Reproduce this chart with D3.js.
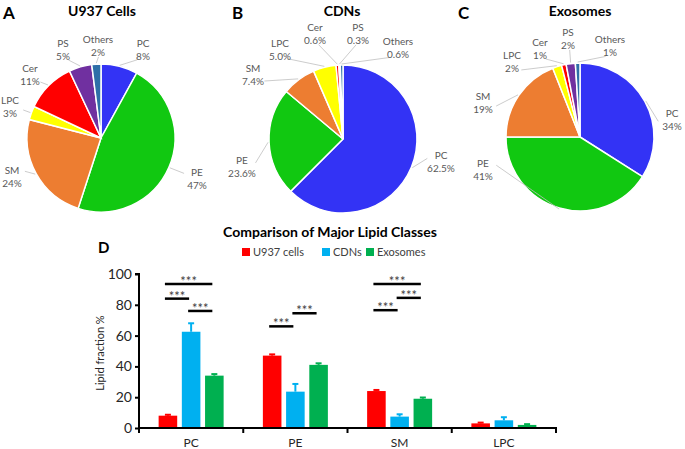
<!DOCTYPE html>
<html lang="en">
<head>
    <meta charset="UTF-8">
    <title>Lipid classes</title>
    <script src="https://cdn.jsdelivr.net/npm/d3@7/dist/d3.min.js"></script>
    <style>
        body { margin: 0; background: #fff; }
        text { font-family: Lato, "Open Sans", sans-serif; }
    </style>
</head>
<body>

<script>

    var width = 685;
    var height = 449;

    // pie data
    var lipidClasses = ["PC", "PE", "SM", "LPC", "Cer", "PS", "Others"];
    var u937Pct = [8, 47, 24, 3, 11, 5, 2];
    var cdnPct = [62.5, 23.6, 7.4, 5.0, 0.6, 0.3, 0.6];
    var exoPct = [34, 41, 19, 2, 1, 2, 1];
    var u937Labels = ["8%", "47%", "24%", "3%", "11%", "5%", "2%"];
    var cdnLabels = ["62.5%", "23.6%", "7.4%", "5.0%", "0.6%", "0.3%", "0.6%"];
    var exoLabels = ["34%", "41%", "19%", "2%", "1%", "2%", "1%"];

    // bar data
    var barCategories = ["PC", "PE", "SM", "LPC"];
    var seriesNames = ["U937 cells", "CDNs", "Exosomes"];
    var u937Mean = [8, 47, 24, 3];
    var u937Err = [0.6, 0.8, 0.7, 0.5];
    var cdnMean = [62.5, 23.6, 7.4, 5.0];
    var cdnErr = [5.5, 5, 1.5, 2];
    var exoMean = [34, 41, 19, 2];
    var exoErr = [1, 1, 0.8, 0.5];
    var yTicks = [0, 20, 40, 60, 80, 100];

    // significance: category, from series, to series, height
    var sigCat = ["PC", "PC", "PC", "PE", "PE", "SM", "SM", "SM"];
    var sigFrom = [0, 0, 1, 0, 1, 0, 1, 0];
    var sigTo = [2, 1, 2, 1, 2, 2, 2, 1];
    var sigY = [93.5, 84, 76, 66, 74.5, 93.5, 84.5, 76.5];

    var sliceColors = ["#3333f5", "#11c811", "#ed7d31", "#ffff00", "#ff0000", "#7030a0", "#2e6fa8"];
    var barColors = ["#ff0000", "#00b0f0", "#00b050"];

    var svg = d3.select("body").append("svg")
        .attr("width", width)
        .attr("height", height);

    svg.append("rect").attr("width", width).attr("height", height).attr("fill", "#fff");

    // ---------- pies ----------
    var radius = 74;
    var pies = [
        {letter: "A", title: "U937 Cells", values: u937Pct, labels: u937Labels, cx: 101, cy: 138, lx: 3, tx: 102,
            // label offsets from the pie centre
            off: [[42, -95], [96, 34], [-89, 32], [-91, -38], [-71, -70], [-38, -95], [-3, -99]]},
        {letter: "B", title: "CDNs", values: cdnPct, labels: cdnLabels, cx: 343, cy: 139, lx: 232, tx: 342,
            off: [[98, 16], [-101, 21], [-90, -71], [-63, -96], [-28, -112], [15, -112], [55, -98]]},
        {letter: "C", title: "Exosomes", values: exoPct, labels: exoLabels, cx: 580, cy: 137, lx: 458, tx: 580,
            off: [[92, -24], [-97, 26], [-97, -41], [-68, -82], [-40, -95], [-12, -105], [30, -98]]}
    ];

    var pie = d3.pie().sort(null).value(function (d) { return d; });
    var arc = d3.arc().innerRadius(0).outerRadius(radius);

    pies.forEach(function (p) {
        svg.append("text")
            .attr("x", p.lx).attr("y", 19)
            .attr("font-size", 17).attr("font-weight", "bold")
            .text(p.letter);
        svg.append("text")
            .attr("x", p.tx).attr("y", 16)
            .attr("text-anchor", "middle")
            .attr("font-size", 14).attr("font-weight", "bold")
            .text(p.title);

        var g = svg.append("g").attr("transform", "translate(" + p.cx + "," + p.cy + ")");
        var arcs = pie(p.values);

        g.selectAll("path.slice")
            .data(arcs)
            .enter().append("path")
            .attr("class", "slice")
            .attr("d", arc)
            .attr("fill", function (d, i) { return sliceColors[i]; })
            .attr("stroke", "#fff")
            .attr("stroke-width", 1.5);

        arcs.forEach(function (d, i) {
            var mid = (d.startAngle + d.endAngle) / 2;
            var sx = Math.sin(mid) * (radius + 1);
            var sy = -Math.cos(mid) * (radius + 1);
            var o = p.off[i];
            var cx = o[0], cy = o[1] + 6;
            var len = Math.sqrt(cx * cx + cy * cy);
            var ex = cx - cx / len * 14;
            var ey = cy - cy / len * 12;
            var dd = Math.sqrt((ex - sx) * (ex - sx) + (ey - sy) * (ey - sy));
            if (dd > 6) {
                g.append("line")
                    .attr("x1", sx).attr("y1", sy)
                    .attr("x2", ex).attr("y2", ey)
                    .attr("stroke", "#bfbfbf")
                    .attr("stroke-width", 0.8);
            }
            var t = g.append("text")
                .attr("text-anchor", "middle")
                .attr("font-size", 10)
                .attr("fill", "#595959");
            t.append("tspan").attr("x", o[0]).attr("y", o[1] + 4).text(lipidClasses[i]);
            t.append("tspan").attr("x", o[0]).attr("y", o[1] + 17).text(p.labels[i]);
        });
    });

    // ---------- bar chart ----------
    svg.append("text")
        .attr("x", 330).attr("y", 237)
        .attr("text-anchor", "middle")
        .attr("font-size", 14).attr("font-weight", "bold")
        .text("Comparison of Major Lipid Classes");
    svg.append("text")
        .attr("x", 98).attr("y", 253)
        .attr("font-size", 15).attr("font-weight", "bold")
        .text("D");

    var legendX = [242, 322, 366];
    seriesNames.forEach(function (s, i) {
        svg.append("rect")
            .attr("x", legendX[i]).attr("y", 248)
            .attr("width", 8).attr("height", 8)
            .attr("fill", barColors[i]);
        svg.append("text")
            .attr("x", legendX[i] + 11).attr("y", 256)
            .attr("font-size", 11).attr("fill", "#404040")
            .text(s);
    });

    var xScale = d3.scaleBand()
        .domain(barCategories)
        .range([139, 556]);

    var groupW = 65;
    var x1 = d3.scaleBand()
        .domain(d3.range(seriesNames.length))
        .range([xScale.bandwidth() / 2 - groupW / 2, xScale.bandwidth() / 2 + groupW / 2])
        .paddingInner(0.2);

    var yScale = d3.scaleLinear()
        .domain([0, 100])
        .range([428, 274]);

    var means = [u937Mean, cdnMean, exoMean];
    var errs = [u937Err, cdnErr, exoErr];

    var barData = [];
    barCategories.forEach(function (c, ci) {
        seriesNames.forEach(function (s, si) {
            barData.push({cat: c, s: si, v: means[si][ci], e: errs[si][ci]});
        });
    });

    var bars = svg.append("g");

    // error bars
    bars.selectAll("g.err")
        .data(barData)
        .enter().append("g")
        .attr("class", "err")
        .each(function (d) {
            var cx = xScale(d.cat) + x1(d.s) + x1.bandwidth() / 2;
            var g = d3.select(this);
            g.append("line")
                .attr("x1", cx).attr("x2", cx)
                .attr("y1", yScale(d.v)).attr("y2", yScale(d.v + d.e))
                .attr("stroke", barColors[d.s]).attr("stroke-width", 2);
            g.append("line")
                .attr("x1", cx - 3).attr("x2", cx + 3)
                .attr("y1", yScale(d.v + d.e)).attr("y2", yScale(d.v + d.e))
                .attr("stroke", barColors[d.s]).attr("stroke-width", 2);
        });

    bars.selectAll("rect")
        .data(barData)
        .enter().append("rect")
        .attr("x", function (d) { return xScale(d.cat) + x1(d.s); })
        .attr("y", function (d) { return yScale(d.v); })
        .attr("width", x1.bandwidth())
        .attr("height", function (d) { return yScale(0) - yScale(d.v); })
        .attr("fill", function (d) { return barColors[d.s]; });

    // axes
    var yAxis = d3.axisLeft(yScale)
        .tickValues(yTicks)
        .tickSize(4)
        .tickPadding(3);
    var yGroup = svg.append("g")
        .attr("transform", "translate(139,0)")
        .call(yAxis);
    yGroup.select(".domain").attr("stroke-width", 2).attr("d", "M-4,274H0V428");
    yGroup.selectAll(".tick line").attr("stroke-width", 2);
    yGroup.selectAll(".tick text")
        .attr("font-size", 14).attr("fill", "#262626")
        .style("font-family", "Lato, sans-serif");

    var xGroup = svg.append("g").attr("transform", "translate(0,428)");
    xGroup.append("line")
        .attr("x1", 138).attr("x2", 557)
        .attr("stroke", "#000").attr("stroke-width", 2);
    xGroup.selectAll("line.tk")
        .data(barCategories.concat(["end"]))
        .enter().append("line")
        .attr("class", "tk")
        .attr("x1", function (d, i) { return i < barCategories.length ? xScale(d) : xScale.range()[1]; })
        .attr("x2", function (d, i) { return i < barCategories.length ? xScale(d) : xScale.range()[1]; })
        .attr("y1", 0).attr("y2", 5)
        .attr("stroke", "#000").attr("stroke-width", 2);
    xGroup.selectAll("text")
        .data(barCategories)
        .enter().append("text")
        .attr("x", function (d) { return xScale(d) + xScale.bandwidth() / 2; })
        .attr("y", 19)
        .attr("text-anchor", "middle")
        .attr("font-size", 12).attr("fill", "#262626")
        .text(function (d) { return d; });

    svg.append("text")
        .attr("transform", "translate(104,353) rotate(-90)")
        .attr("text-anchor", "middle")
        .attr("font-size", 11).attr("fill", "#262626")
        .text("Lipid fraction %");

    // significance brackets
    var sig = svg.append("g");
    sigCat.forEach(function (c, i) {
        var xa = xScale(c) + x1(sigFrom[i]) + x1.bandwidth() / 2 - 3;
        var xb = xScale(c) + x1(sigTo[i]) + x1.bandwidth() / 2 - 2;
        var y = yScale(sigY[i]);
        sig.append("line")
            .attr("x1", xa).attr("x2", xb)
            .attr("y1", y).attr("y2", y)
            .attr("stroke", "#000").attr("stroke-width", 2.5);
        sig.append("text")
            .attr("x", (xa + xb) / 2).attr("y", y + 2)
            .attr("text-anchor", "middle")
            .attr("font-size", 13).attr("fill", "#404040")
            .text("***");
    });

</script>
</body>
</html>
